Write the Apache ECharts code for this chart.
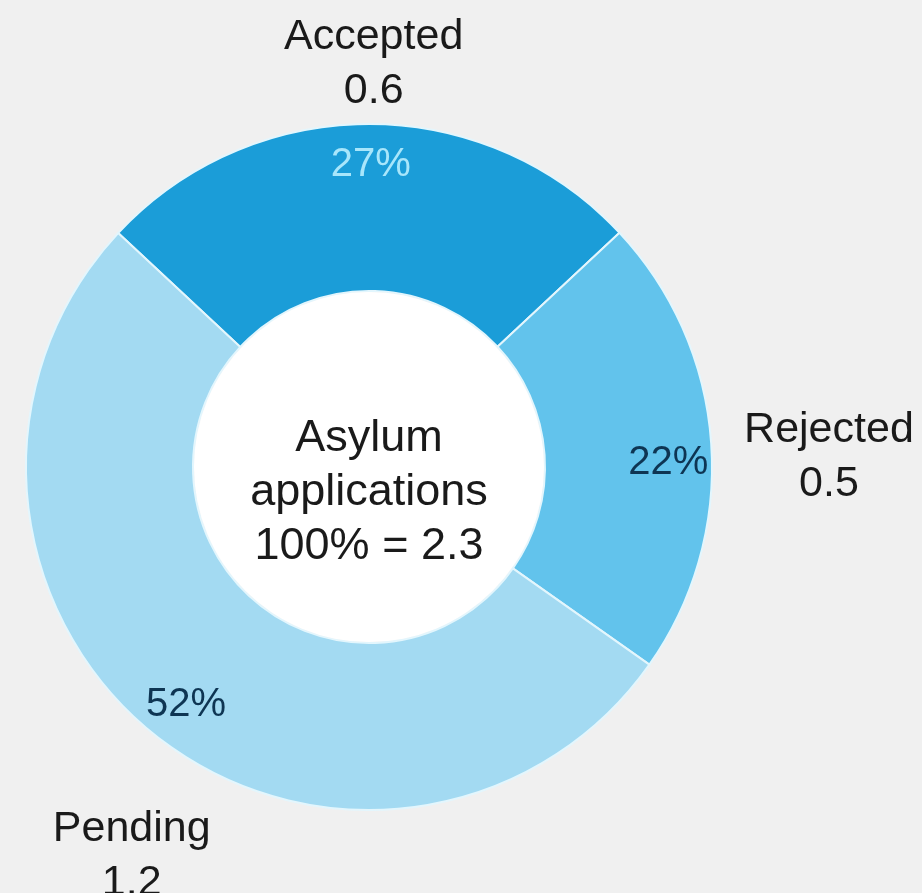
<!DOCTYPE html>
<html>
<head>
<meta charset="utf-8">
<title>Asylum applications</title>
<script src="https://cdn.jsdelivr.net/npm/echarts@6/dist/echarts.min.js"></script>
<style>
  html, body { margin: 0; padding: 0; background: #f0f0f0; }
  #chart { width: 922px; height: 893px; }
</style>
</head>
<body>
<div id="chart"></div>
<script>
// Asylum applications by outcome (millions)
const categories = ['Accepted', 'Rejected', 'Pending'];
const values = [0.6, 0.5, 1.2];
const shareLabels = ['27%', '22%', '52%'];
const centerLines = ['Asylum', 'applications'];

const sliceColors = ['#1b9dd8', '#62c3ec', '#a3daf2'];
const shareColors = ['#a8e6fb', '#0e3553', '#0e3553'];
// nudges for the outer category labels and the share labels
const nameNudge = [[5, 40], [18, 21], [42, 45]];
const shareNudge = [[2, 1], [-3, 17], [8, 3]];

const total = values.reduce((a, b) => a + b, 0);
const center = [369, 467];
const inner = 176;
const outer = 343;
const startAngle = 137;
const font = "'Liberation Sans', Arial, Helvetica, sans-serif";

const baseData = categories.map((name, i) => ({ name: name, value: values[i] }));

const chart = echarts.init(document.getElementById('chart'), null, { renderer: 'canvas' });

chart.setOption({
  backgroundColor: '#f0f0f0',
  animation: false,
  series: [
    {
      name: 'ring',
      type: 'pie',
      center: center,
      radius: [inner, outer],
      startAngle: startAngle,
      clockwise: true,
      silent: true,
      label: { show: false },
      labelLine: { show: false },
      itemStyle: { borderColor: '#e3f6fd', borderWidth: 2 },
      data: baseData.map((d, i) => ({
        name: d.name,
        value: d.value,
        itemStyle: { color: sliceColors[i] }
      }))
    },
    {
      name: 'hole',
      type: 'pie',
      center: center,
      radius: [0, inner - 1],
      silent: true,
      labelLine: { show: false },
      itemStyle: { color: '#ffffff', borderWidth: 0 },
      label: {
        show: true,
        position: 'center',
        formatter: centerLines.join('\n') + '\n100% = ' + total.toFixed(1),
        fontFamily: font,
        fontSize: 45,
        lineHeight: 54,
        color: '#1a1a1a'
      },
      labelLayout: () => ({ dy: 26 }),
      data: [{ name: 'total', value: total }]
    },
    {
      name: 'shares',
      type: 'pie',
      center: center,
      radius: [294, 306],
      startAngle: startAngle,
      clockwise: true,
      silent: true,
      itemStyle: { color: 'rgba(0,0,0,0)' },
      labelLine: { show: false },
      label: {
        show: true,
        position: 'inside',
        fontFamily: font,
        fontSize: 40,
        formatter: p => shareLabels[p.dataIndex]
      },
      labelLayout: p => ({ dx: shareNudge[p.dataIndex][0], dy: shareNudge[p.dataIndex][1] }),
      data: baseData.map((d, i) => ({
        name: d.name,
        value: d.value,
        label: { color: shareColors[i] }
      }))
    },
    {
      name: 'names',
      type: 'pie',
      center: center,
      radius: [430, 450],
      startAngle: startAngle,
      clockwise: true,
      silent: true,
      itemStyle: { color: 'rgba(0,0,0,0)' },
      labelLine: { show: false },
      label: {
        show: true,
        position: 'inside',
        fontFamily: font,
        fontSize: 43,
        lineHeight: 54,
        color: '#1a1a1a',
        formatter: p => p.name + '\n' + values[p.dataIndex]
      },
      labelLayout: p => ({ dx: nameNudge[p.dataIndex][0], dy: nameNudge[p.dataIndex][1] }),
      data: baseData
    }
  ]
});
</script>
</body>
</html>
